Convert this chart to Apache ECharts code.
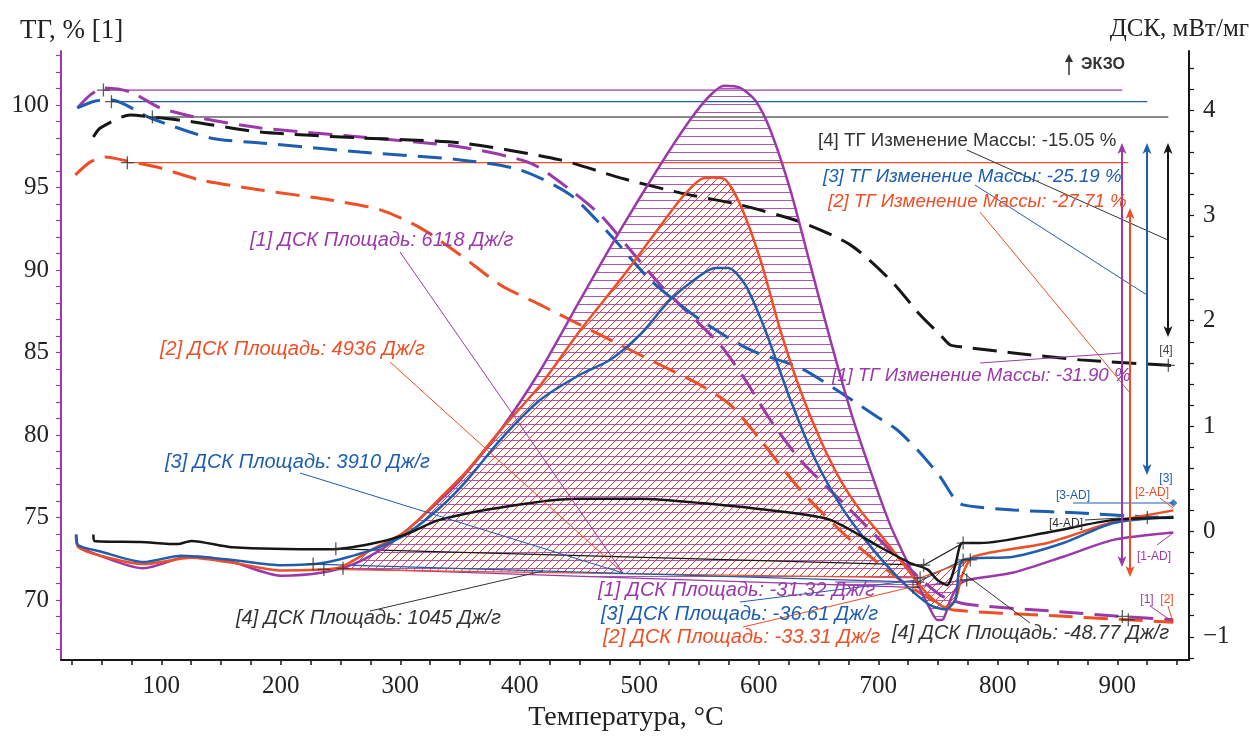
<!DOCTYPE html>
<html>
<head>
<meta charset="utf-8">
<script src="https://cdn.jsdelivr.net/npm/echarts@6/dist/echarts.min.js"></script>
<style>
  html, body { margin: 0; padding: 0; background: #fff; }
  #chart { width: 1249px; height: 736px; }
</style>
</head>
<body>
<div id="chart"></div>
<script>
// ---------- axis ticks and labels ----------
const tempTickValues = [25, 50, 75, 100, 125, 150, 175, 200, 225, 250, 275, 300, 325, 350, 375, 400, 425, 450, 475, 500,
  525, 550, 575, 600, 625, 650, 675, 700, 725, 750, 775, 800, 825, 850, 875, 900, 925, 950];
const tempLabelValues = [100, 200, 300, 400, 500, 600, 700, 800, 900];
const tgTickValues = [67, 68, 69, 70, 71, 72, 73, 74, 75, 76, 77, 78, 79, 80, 81, 82, 83, 84, 85, 86, 87, 88, 89, 90,
  91, 92, 93, 94, 95, 96, 97, 98, 99, 100, 101, 102, 103];
const tgLabelValues = [70, 75, 80, 85, 90, 95, 100];
const dscTickValues = [-1.2, -1, -0.8, -0.6, -0.4, -0.2, 0, 0.2, 0.4, 0.6, 0.8, 1, 1.2, 1.4, 1.6, 1.8, 2, 2.2, 2.4, 2.6,
  2.8, 3, 3.2, 3.4, 3.6, 3.8, 4, 4.2, 4.4];
const dscLabelValues = [-1, 0, 1, 2, 3, 4];

// ---------- TG curves, [temperature °C, mass %] ----------
const tg1 = [[29.7, 99.82], [40.6, 100.61], [51.5, 101.03], [74.1, 100.79], [99.2, 99.82], [132.6, 99.21], [182.8, 98.61],
  [266.5, 98.06], [350.2, 97.45], [408.8, 96.48], [442.3, 94.85], [467.4, 93.33], [492.5, 91.21], [517.6, 89.09],
  [542.7, 87.27], [567.8, 85.45], [588.7, 83.33], [609.6, 80.91], [634.7, 78.48], [676.6, 75.45], [718.4, 72.42],
  [751.9, 70.3], [772.8, 69.76], [843.9, 69.33], [904.2, 69.0], [946.9, 68.8]];
const tg2 = [[28.0, 95.76], [40.6, 96.55], [53.1, 96.85], [71.5, 96.6], [99.2, 96.18], [132.6, 95.45], [182.8, 94.85],
  [241.4, 94.24], [283.3, 93.64], [316.7, 92.55], [350.2, 90.91], [383.7, 89.09], [417.2, 87.88], [450.6, 86.67],
  [484.1, 85.45], [517.6, 84.24], [551.0, 83.03], [576.2, 81.82], [601.3, 79.7], [634.7, 76.67], [676.6, 73.64],
  [718.4, 71.21], [751.9, 69.7], [762.8, 69.39], [843.9, 69.05], [909.2, 68.8], [946.9, 68.65]];
const tg3 = [[29.7, 99.82], [44.8, 100.24], [58.2, 100.3], [90.8, 99.21], [141.0, 98.0], [182.8, 97.7], [266.5, 97.15],
  [350.2, 96.67], [400.4, 96.06], [442.3, 94.55], [475.7, 92.12], [509.2, 89.39], [551.0, 86.97], [592.9, 85.15],
  [634.7, 84.06], [674.1, 82.3], [699.2, 81.09], [715.9, 80.3], [735.1, 78.91], [751.9, 77.45], [762.8, 76.24],
  [771.1, 75.76], [813.0, 75.45], [869.0, 75.27], [925.1, 75.03], [946.9, 75.0]];
const tg4 = [[43.1, 98.06], [49.0, 98.61], [74.1, 99.39], [92.5, 99.27], [126.8, 98.97], [182.8, 98.36], [266.5, 98.0],
  [350.2, 97.7], [433.9, 96.67], [484.1, 95.58], [534.3, 94.67], [584.5, 93.94], [634.7, 92.91], [676.6, 91.52],
  [710.0, 89.39], [735.1, 87.27], [751.9, 86.06], [760.3, 85.45], [771.1, 85.33], [813.0, 84.97], [869.0, 84.55],
  [942.7, 84.22], [946.9, 84.2]];

// TG step reference: start level and end level of each mass change
const tgStartTemp = [51.5, 71.5, 58.2, 92.5];
const tgStartValue = [100.9, 96.5, 100.2, 99.27];
const tgEndTemp = [904.2, 909.2, 925.1, 942.7];
const tgEndValue = [69.0, 68.8, 75.0, 84.22];

// ---------- DSC curves, [temperature °C, mW/mg] ----------
const dsc1 = [[28.5, -0.03], [29.7, -0.13], [43.9, -0.21], [84.9, -0.35], [116.7, -0.25], [131.0, -0.24], [159.4, -0.29],
  [200.4, -0.42], [234.7, -0.39], [260.7, -0.31], [284.1, -0.17], [304.2, 0.0], [332.6, 0.29], [350.2, 0.49],
  [383.7, 0.96], [417.2, 1.53], [450.6, 2.2], [484.1, 2.86], [517.6, 3.48], [542.7, 3.91], [559.4, 4.14], [571.1, 4.23],
  [584.5, 4.21], [597.1, 4.09], [609.6, 3.81], [626.4, 3.24], [643.1, 2.53], [659.8, 1.82], [676.6, 1.15], [693.3, 0.58],
  [710.0, 0.06], [722.6, -0.25], [735.1, -0.55], [743.5, -0.74], [749.4, -0.84], [754.4, -0.83], [760.3, -0.65],
  [766.9, -0.51], [774.5, -0.46], [813.0, -0.39], [854.8, -0.24], [896.7, -0.08], [946.9, -0.01]];
const dsc2 = [[28.9, -0.05], [30.5, -0.15], [49.0, -0.23], [84.9, -0.31], [125.1, -0.25], [166.1, -0.31], [200.4, -0.37],
  [246.4, -0.35], [274.9, -0.18], [304.2, 0.0], [332.6, 0.31], [356.1, 0.58], [383.7, 0.96], [417.2, 1.39], [450.6, 1.91],
  [484.1, 2.39], [509.2, 2.77], [534.3, 3.15], [551.0, 3.34], [561.1, 3.36], [572.0, 3.34], [584.5, 3.1], [601.3, 2.58],
  [618.0, 1.91], [634.7, 1.34], [651.5, 0.87], [668.2, 0.49], [684.9, 0.2], [701.7, -0.03], [718.4, -0.27], [731.0, -0.46],
  [743.5, -0.62], [756.1, -0.72], [764.4, -0.65], [770.3, -0.41], [779.5, -0.24], [841.4, -0.11], [896.7, 0.09],
  [946.9, 0.2]];
const dsc3 = [[28.9, -0.03], [30.5, -0.13], [49.0, -0.19], [84.9, -0.29], [116.7, -0.23], [159.4, -0.27], [200.4, -0.32],
  [234.7, -0.3], [274.9, -0.18], [304.2, -0.03], [332.6, 0.22], [356.1, 0.49], [383.7, 0.87], [417.2, 1.25], [450.6, 1.49],
  [475.7, 1.63], [500.8, 1.87], [525.9, 2.2], [551.0, 2.43], [563.6, 2.5], [574.5, 2.5], [588.7, 2.34], [605.4, 1.91],
  [626.4, 1.25], [647.3, 0.68], [668.2, 0.25], [689.1, -0.08], [710.0, -0.36], [726.8, -0.55], [743.5, -0.7],
  [756.1, -0.74], [764.4, -0.65], [771.1, -0.27], [813.0, -0.24], [854.8, -0.11], [896.7, 0.08], [946.9, 0.14]];
const dsc4 = [[43.1, -0.03], [43.9, -0.09], [82.4, -0.1], [113.4, -0.12], [125.1, -0.09], [159.4, -0.15], [240.6, -0.17],
  [274.9, -0.12], [304.2, -0.03], [332.6, 0.11], [390.4, 0.24], [448.1, 0.31], [500.8, 0.31], [551.0, 0.27], [618.0, 0.19],
  [659.8, 0.11], [701.7, -0.15], [726.8, -0.3], [741.0, -0.36], [749.4, -0.46], [757.7, -0.51], [764.4, -0.32],
  [770.3, -0.11], [785.4, -0.11], [841.4, -0.01], [896.7, 0.11], [946.9, 0.13]];

// DSC integration baselines: exothermic peaks and endothermic dips
const dscBase1 = [[252, -0.35], [729, -0.53]];
const dscBase2 = [[236, -0.36], [735, -0.44]];
const dscBase3 = [[227, -0.31], [733, -0.48]];
const dscBase4 = [[246, -0.165], [738, -0.32]];
const dscDipBase1 = [[729, -0.53], [774, -0.46]];
const dscDipBase2 = [[735, -0.44], [777, -0.27]];
const dscDipBase3 = [[733, -0.48], [771, -0.27]];
const dscDipBase4 = [[738, -0.32], [771, -0.11]];
// end point of the [3] DSC trace flagged on the right edge
const dscEndFlag3 = [[946.9, 0.27]];

// ---------- styling ----------
const PURPLE = '#9b39aa', RED = '#f04e24', BLUE = '#1e5eb0', BLACK = '#161616', INK = '#222';
const SERIF = '"Liberation Serif", "DejaVu Serif", serif';
const SANS = '"Liberation Sans", Arial, sans-serif';

function hatchPattern(kind, color) {
  const c = document.createElement('canvas');
  c.width = 8; c.height = 8;
  const g = c.getContext('2d');
  g.strokeStyle = color; g.lineWidth = 1;
  g.beginPath();
  if (kind === 'h') {
    g.moveTo(0, 0.5); g.lineTo(8, 0.5);
  } else {
    g.moveTo(-1, 9); g.lineTo(9, -1);
    g.moveTo(-1, 1); g.lineTo(1, -1);
    g.moveTo(7, 9); g.lineTo(9, 7);
  }
  g.stroke();
  return { image: c, repeat: 'repeat' };
}

const hatchAreas = [
  { curve: dsc1, base: dscBase1, fill: hatchPattern('h', '#a659b6') },
  { curve: dsc2, base: dscBase2, fill: hatchPattern('d', '#f2402a') },
  { curve: dsc1, base: dscDipBase1, fill: hatchPattern('h', '#a659b6') },
  { curve: dsc3, base: dscDipBase3, fill: hatchPattern('d', BLUE) },
  { curve: dsc2, base: dscDipBase2, fill: hatchPattern('d', '#f2402a') }
];

function interp(curve, t) {
  for (let i = 1; i < curve.length; i++) {
    if (curve[i][0] >= t) {
      const [t0, v0] = curve[i - 1], [t1, v1] = curve[i];
      return v0 + (v1 - v0) * (t - t0) / (t1 - t0);
    }
  }
  return curve[curve.length - 1][1];
}

function renderHatch(params, api) {
  const area = hatchAreas[params.dataIndex];
  const [[ta, ba], [tb, bb]] = area.base;
  const pts = [api.coord([ta, ba]), api.coord([ta, interp(area.curve, ta)])];
  area.curve.forEach(([t, v]) => { if (t > ta && t < tb) pts.push(api.coord([t, v])); });
  pts.push(api.coord([tb, interp(area.curve, tb)]), api.coord([tb, bb]));
  return { type: 'polygon', shape: { points: pts }, style: { fill: area.fill, stroke: null } };
}

const tgLine = (data, color) => ({
  type: 'line', yAxisIndex: 0, data, showSymbol: false, smooth: 0.25, z: 4,
  lineStyle: { color, width: 3, type: [24, 11] }, silent: true
});
const dscLine = (data, color) => ({
  type: 'line', yAxisIndex: 1, data, showSymbol: false, smooth: 0.25, z: 5,
  lineStyle: { color, width: 2.5 }, silent: true
});
const thinLine = (data, color, yAxisIndex) => ({
  type: 'line', yAxisIndex, data, showSymbol: false, z: 3,
  lineStyle: { color, width: 1.2 }, silent: true
});

const PLUS = 'path://M-0.6,-6L0.6,-6L0.6,6L-0.6,6Z M-6,-0.6L6,-0.6L6,0.6L-6,0.6Z';
const tgMarks = tgStartTemp.map((t, i) => [t, tgStartValue[i]]).concat(tgEndTemp.map((t, i) => [t, tgEndValue[i]]));
const dscMarks = [dscBase1, dscBase2, dscBase3, dscBase4].flat()
  .concat([dscDipBase1[1], dscDipBase2[1], dscDipBase3[1], dscDipBase4[1]]);
const colors = [PURPLE, RED, BLUE, BLACK];

const series = [
  { type: 'custom', yAxisIndex: 1, renderItem: renderHatch, data: hatchAreas.map((a, i) => [i]), z: 1, silent: true, clip: true },
  thinLine(dscBase1, PURPLE, 1), thinLine(dscBase2, RED, 1), thinLine(dscBase3, BLUE, 1), thinLine(dscBase4, BLACK, 1),
  thinLine(dscDipBase1, PURPLE, 1), thinLine(dscDipBase3, BLUE, 1), thinLine(dscDipBase2, RED, 1), thinLine(dscDipBase4, BLACK, 1)
];
tgStartTemp.forEach((t, i) => series.push(thinLine([[t, tgStartValue[i]], [tgEndTemp[i], tgStartValue[i]]], colors[i], 0)));
series.push(
  tgLine(tg1, PURPLE), tgLine(tg2, RED), tgLine(tg3, BLUE), tgLine(tg4, BLACK),
  dscLine(dsc1, PURPLE), dscLine(dsc2, RED), dscLine(dsc3, BLUE), dscLine(dsc4, BLACK),
  { type: 'scatter', yAxisIndex: 0, data: tgMarks, symbol: PLUS, symbolSize: 13, itemStyle: { color: '#333' }, z: 8, silent: true },
  { type: 'scatter', yAxisIndex: 1, data: dscMarks, symbol: PLUS, symbolSize: 13, itemStyle: { color: '#333' }, z: 8, silent: true },
  { type: 'scatter', yAxisIndex: 1, data: dscEndFlag3, symbol: 'diamond', symbolSize: 8, itemStyle: { color: BLUE }, z: 8, silent: true }
);

// ---------- annotations (screen layout) ----------
const tgFont = 'italic 18.7px ' + SANS;
const dscFont = 'italic 20px ' + SANS;
const notes = [
  { text: '[4] ТГ Изменение Массы: -15.05 %', x: 818, y: 141, color: '#333', font: '18.7px ' + SANS },
  { text: '[3] ТГ Изменение Массы: -25.19 %', x: 823, y: 177, color: BLUE, font: tgFont },
  { text: '[2] ТГ Изменение Массы: -27.71 %', x: 828, y: 202, color: RED, font: tgFont },
  { text: '[1] ТГ Изменение Массы: -31.90 %', x: 832, y: 376, color: PURPLE, font: tgFont },
  { text: '[1] ДСК Площадь: 6118 Дж/г', x: 250, y: 240, color: PURPLE, font: dscFont },
  { text: '[2] ДСК Площадь: 4936 Дж/г', x: 160, y: 349, color: RED, font: dscFont },
  { text: '[3] ДСК Площадь: 3910 Дж/г', x: 165, y: 462, color: BLUE, font: dscFont },
  { text: '[4] ДСК Площадь: 1045 Дж/г', x: 236, y: 618, color: '#333', font: dscFont },
  { text: '[1] ДСК Площадь: -31.32 Дж/г', x: 598, y: 590, color: PURPLE, font: dscFont },
  { text: '[3] ДСК Площадь: -36.61 Дж/г', x: 601, y: 614, color: BLUE, font: dscFont },
  { text: '[2] ДСК Площадь: -33.31 Дж/г', x: 603, y: 637, color: RED, font: dscFont },
  { text: '[4] ДСК Площадь: -48.77 Дж/г', x: 892, y: 633, color: '#333', font: dscFont }
];
const tags = [
  { text: '[4]', x: 1166, y: 351, color: '#444' },
  { text: '[3]', x: 1166, y: 479, color: BLUE },
  { text: '[3-AD]', x: 1073, y: 496, color: BLUE },
  { text: '[2-AD]', x: 1152, y: 493, color: RED },
  { text: '[4-AD]', x: 1066, y: 524, color: '#333' },
  { text: '[1-AD]', x: 1154, y: 557, color: PURPLE },
  { text: '[1]', x: 1147, y: 600, color: PURPLE },
  { text: '[2]', x: 1167, y: 600, color: RED }
];
const leaders = [
  [967, 150, 1168, 240, '#333'], [975, 185, 1147, 295, BLUE], [980, 212, 1130, 393, RED],
  [980, 363, 1121, 353, PURPLE],
  [400, 252, 623, 573, PURPLE], [390, 362, 623, 573, RED], [300, 473, 623, 573, BLUE],
  [370, 611, 543, 571, '#333'],
  [835, 582, 913, 582, PURPLE], [740, 602, 916, 580, BLUE], [743, 627, 920, 585, RED],
  [1030, 623, 962, 572, '#333'],
  [1073, 503, 1173, 503, BLUE], [1160, 498, 1173, 508, RED], [1085, 520, 1120, 518, '#333'],
  [1157, 545, 1173, 533, PURPLE], [1150, 606, 1173, 622, PURPLE], [1168, 606, 1173, 622, RED]
];
const arrows = [[1122, 143, 567, PURPLE], [1130, 208, 577, RED], [1147, 143, 475, BLUE], [1168, 143, 337, BLACK]];

const graphic = [];
notes.forEach(n => graphic.push({
  type: 'text', x: n.x, y: n.y, z: 100, silent: true,
  style: { text: n.text, font: n.font, fill: n.color, verticalAlign: 'middle' }
}));
tags.forEach(n => graphic.push({
  type: 'text', x: n.x, y: n.y, z: 100, silent: true,
  style: { text: n.text, font: '12px ' + SANS, fill: n.color, align: 'center', verticalAlign: 'middle' }
}));
leaders.forEach(([x1, y1, x2, y2, c]) => graphic.push({
  type: 'line', z: 90, silent: true, shape: { x1, y1, x2, y2 }, style: { stroke: c, lineWidth: 1 }
}));
arrows.forEach(([x, y1, y2, c]) => {
  graphic.push({ type: 'line', z: 95, silent: true, shape: { x1: x, y1: y1 + 4, x2: x, y2: y2 - 4 }, style: { stroke: c, lineWidth: 2 } });
  graphic.push({ type: 'polygon', z: 95, silent: true, shape: { points: [[x, y1], [x - 4.5, y1 + 11], [x, y1 + 8], [x + 4.5, y1 + 11]] }, style: { fill: c } });
  graphic.push({ type: 'polygon', z: 95, silent: true, shape: { points: [[x, y2], [x - 4.5, y2 - 11], [x, y2 - 8], [x + 4.5, y2 - 11]] }, style: { fill: c } });
});
graphic.push(
  { type: 'text', x: 20, y: 31, style: { text: 'ТГ, % [1]', font: '27px ' + SERIF, fill: INK, verticalAlign: 'middle' } },
  { type: 'text', x: 1249, y: 29, style: { text: 'ДСК, мВт/мг', font: '25px ' + SERIF, fill: INK, align: 'right', verticalAlign: 'middle' } },
  { type: 'text', x: 626, y: 718, style: { text: 'Температура, °C', font: '28px ' + SERIF, fill: INK, align: 'center', verticalAlign: 'middle' } },
  { type: 'text', x: 1081, y: 65, style: { text: 'ЭКЗО', font: 'bold 16px ' + SANS, fill: '#333', verticalAlign: 'middle' } },
  { type: 'line', shape: { x1: 1069, y1: 75, x2: 1069, y2: 57 }, style: { stroke: '#333', lineWidth: 1.5 } },
  { type: 'polygon', shape: { points: [[1069, 54], [1065, 62], [1073, 62]] }, style: { fill: '#333' } }
);

const chart = echarts.init(document.getElementById('chart'), null, { renderer: 'canvas' });
chart.setOption({
  animation: false,
  backgroundColor: '#fff',
  grid: { left: 61, right: 60, top: 51, bottom: 76, containLabel: false },
  xAxis: {
    type: 'value', min: 16, max: 960,
    axisLine: { show: true, onZero: false, lineStyle: { color: BLACK, width: 2 } },
    axisTick: { show: true, customValues: tempTickValues, length: 5, lineStyle: { color: BLACK, width: 1.5 } },
    axisLabel: { customValues: tempLabelValues, fontFamily: SERIF, fontSize: 25, color: INK, margin: 14 },
    splitLine: { show: false }
  },
  yAxis: [
    {
      type: 'value', position: 'left', min: 66.36, max: 103.27,
      axisLine: { show: true, onZero: false, lineStyle: { color: PURPLE, width: 2 } },
      axisTick: { show: true, customValues: tgTickValues, length: 5, lineStyle: { color: PURPLE, width: 1.2 } },
      axisLabel: { customValues: tgLabelValues, fontFamily: SERIF, fontSize: 25, color: INK, margin: 12 },
      splitLine: { show: false }
    },
    {
      type: 'value', position: 'right', min: -1.22, max: 4.56,
      axisLine: { show: true, onZero: false, lineStyle: { color: BLACK, width: 2 } },
      axisTick: { show: true, customValues: dscTickValues, length: 5, lineStyle: { color: BLACK, width: 1.2 } },
      axisLabel: {
        customValues: dscLabelValues, fontFamily: SERIF, fontSize: 25, color: INK, margin: 14,
        formatter: v => (v < 0 ? '\u2212' + Math.abs(v) : String(v))
      },
      splitLine: { show: false }
    }
  ],
  series,
  graphic
});
</script>
</body>
</html>
